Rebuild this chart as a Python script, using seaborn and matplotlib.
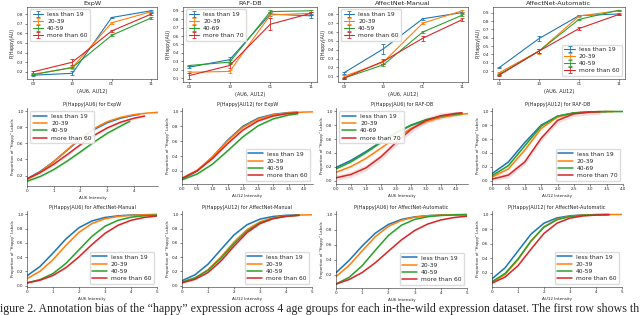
import matplotlib
matplotlib.use("Agg")
import matplotlib.pyplot as plt
from matplotlib.ticker import MultipleLocator
import seaborn as sns

sns.set_theme(style="ticks")
plt.rcParams['font.family'] = ['DejaVu Sans']
plt.rcParams.update({
    'axes.linewidth': 0.5,
    'xtick.major.size': 1.5, 'ytick.major.size': 1.5,
    'xtick.major.width': 0.4, 'ytick.major.width': 0.4,
    'xtick.major.pad': 1.0, 'ytick.major.pad': 1.0,
    'xtick.labelsize': 3.0, 'ytick.labelsize': 3.0,
})

# ---------------- row 1: P(Happy|AU) per AU6/AU12 combination
au_pairs = ["00", "10", "01", "11"]
ages_60 = ["less than 19", "20-39", "40-59", "more than 60"]
ages_70 = ["less than 19", "20-39", "40-69", "more than 70"]

expw_p = [[0.165, 0.185, 0.765, 0.835], [0.175, 0.245, 0.71, 0.825],
          [0.17, 0.245, 0.58, 0.76], [0.20, 0.30, 0.625, 0.80]]
expw_e = [[0.005, 0.02, 0.01, 0.01], [0.005, 0.015, 0.01, 0.01],
          [0.005, 0.01, 0.01, 0.01], [0.01, 0.03, 0.015, 0.01]]
raf_p = [[0.23, 0.32, 0.86, 0.84], [0.17, 0.18, 0.85, 0.87],
         [0.25, 0.29, 0.89, 0.90], [0.13, 0.25, 0.74, 0.87]]
raf_e = [[0.01, 0.03, 0.02, 0.02], [0.01, 0.02, 0.04, 0.02],
         [0.01, 0.02, 0.02, 0.01], [0.035, 0.03, 0.07, 0.02]]
man_p = [[0.14, 0.41, 0.75, 0.82], [0.10, 0.26, 0.70, 0.84],
         [0.08, 0.23, 0.60, 0.79], [0.08, 0.27, 0.53, 0.74]]
man_e = [[0.01, 0.06, 0.01, 0.01], [0.01, 0.02, 0.01, 0.01],
         [0.005, 0.015, 0.015, 0.01], [0.005, 0.03, 0.03, 0.015]]
auto_p = [[0.24, 0.59, 0.865, 0.885], [0.18, 0.44, 0.86, 0.925],
          [0.16, 0.44, 0.82, 0.93], [0.15, 0.44, 0.71, 0.88]]
auto_e = [[0.005, 0.03, 0.01, 0.01], [0.005, 0.03, 0.01, 0.005],
          [0.005, 0.02, 0.01, 0.005], [0.005, 0.02, 0.02, 0.01]]

# ---------------- rows 2-3: proportion of "happy" labels vs AU intensity
grid = [0.0, 0.5, 1.0, 1.5, 2.0, 2.5, 3.0, 3.5, 4.0, 4.5, 5.0]

expw_au6_y = [
    [0.160, 0.253, 0.375, 0.516, 0.655, 0.771, 0.857, 0.914, 0.950, 0.960],
    [0.151, 0.245, 0.372, 0.520, 0.664, 0.783, 0.869, 0.923, 0.957, 0.976, 0.985],
    [0.130, 0.190, 0.275, 0.380, 0.495, 0.615, 0.725, 0.815, 0.875],
    [0.160, 0.239, 0.341, 0.460, 0.584, 0.698, 0.792, 0.863, 0.912, 0.939]]
expw_au6_end = [4.2, 4.9, 3.85, 4.4]
expw_au6_ci = [0.01, 0.01, 0.015, 0.015]

expw_au12_y = [
    [0.090, 0.200, 0.387, 0.614, 0.801, 0.910, 0.962, 0.985, 0.991],
    [0.100, 0.210, 0.389, 0.605, 0.786, 0.898, 0.955, 0.981, 0.992, 0.995],
    [0.080, 0.159, 0.291, 0.471, 0.659, 0.808, 0.901, 0.952, 0.969],
    [0.100, 0.202, 0.366, 0.568, 0.750, 0.873, 0.940, 0.973, 0.983]]
expw_au12_end = [3.8, 4.3, 3.8, 3.8]
expw_au12_ci = [0.01, 0.01, 0.01, 0.012]

raf_au6_y = [
    [0.190, 0.292, 0.421, 0.561, 0.692, 0.798, 0.874, 0.924, 0.956, 0.960],
    [0.120, 0.203, 0.321, 0.469, 0.622, 0.754, 0.851, 0.914, 0.952, 0.970],
    [0.169, 0.271, 0.404, 0.552, 0.692, 0.804, 0.882, 0.932, 0.961, 0.969],
    [0.040, 0.088, 0.184, 0.344, 0.550, 0.740, 0.869, 0.939, 0.973, 0.981]]
raf_au6_end = [4.1, 4.4, 4.2, 4.2]
raf_au6_ci = [0.015, 0.015, 0.015, 0.045]

raf_au12_y = [
    [0.100, 0.269, 0.550, 0.802, 0.931, 0.978, 0.993, 0.998],
    [0.050, 0.169, 0.440, 0.752, 0.921, 0.978, 0.994, 0.999, 0.999],
    [0.070, 0.216, 0.502, 0.788, 0.932, 0.980, 0.995, 0.999, 1.000],
    [0.020, 0.079, 0.269, 0.611, 0.870, 0.966, 0.992, 0.997]]
raf_au12_end = [3.5, 3.7, 4.0, 3.3]
raf_au12_ci = [0.015, 0.015, 0.015, 0.04]

man_au6_y = [
    [0.139, 0.270, 0.458, 0.658, 0.815, 0.909, 0.958, 0.981, 0.992, 0.996, 0.998],
    [0.100, 0.202, 0.366, 0.568, 0.750, 0.873, 0.940, 0.973, 0.988, 0.995, 0.998],
    [0.040, 0.085, 0.171, 0.314, 0.505, 0.694, 0.835, 0.918, 0.962, 0.982, 0.992],
    [0.040, 0.077, 0.144, 0.254, 0.406, 0.579, 0.735, 0.848, 0.918, 0.958, 0.979]]
man_au6_end = [5.0, 5.0, 5.0, 5.0]
man_au6_ci = [0.008, 0.008, 0.008, 0.01]

man_au12_y = [
    [0.070, 0.153, 0.302, 0.509, 0.713, 0.856, 0.935, 0.972, 0.988, 0.995],
    [0.050, 0.110, 0.224, 0.404, 0.613, 0.788, 0.897, 0.953, 0.979, 0.991, 0.996],
    [0.050, 0.108, 0.216, 0.386, 0.589, 0.766, 0.882, 0.945, 0.975, 0.989],
    [0.040, 0.089, 0.185, 0.348, 0.555, 0.745, 0.872, 0.941, 0.974, 0.989]]
man_au12_end = [4.5, 5.0, 4.5, 4.5]
man_au12_ci = [0.008, 0.008, 0.008, 0.01]

auto_au6_y = [
    [0.230, 0.393, 0.584, 0.753, 0.869, 0.935, 0.969, 0.985, 0.993, 0.997, 0.999],
    [0.179, 0.327, 0.520, 0.707, 0.843, 0.923, 0.964, 0.983, 0.993, 0.997, 0.998],
    [0.080, 0.169, 0.323, 0.527, 0.723, 0.859, 0.935, 0.971, 0.987, 0.995, 0.998],
    [0.080, 0.140, 0.233, 0.362, 0.515, 0.665, 0.788, 0.874, 0.928, 0.960, 0.978]]
auto_au6_end = [5.0, 5.0, 5.0, 5.0]
auto_au6_ci = [0.006, 0.006, 0.006, 0.006]

auto_au12_y = [
    [0.119, 0.269, 0.500, 0.731, 0.881, 0.953, 0.982, 0.993, 0.998, 0.999],
    [0.070, 0.177, 0.380, 0.636, 0.833, 0.935, 0.976, 0.992, 0.997, 0.999, 1.000],
    [0.080, 0.192, 0.392, 0.636, 0.826, 0.928, 0.972, 0.990, 0.996, 0.999],
    [0.060, 0.142, 0.299, 0.525, 0.741, 0.881, 0.950, 0.980, 0.992, 0.997]]
auto_au12_end = [4.5, 5.0, 4.5, 4.5]
auto_au12_ci = [0.006, 0.006, 0.006, 0.006]

caption = ("igure 2. Annotation bias of the \u201chappy\u201d expression across 4 age groups "
           "for each in-the-wild expression dataset. The first row shows th")

W, H = 640, 315
colors = sns.color_palette("tab10", 4)
fig = plt.figure(figsize=(6.4, 3.15), dpi=100)


def box(l, t, r, b):
    return [l / W, 1 - b / H, (r - l) / W, (b - t) / H]


# row 1
row1 = [("ExpW", expw_p, expw_e, ages_60, "upper left", (27, 6.5, 157, 79)),
        ("RAF-DB", raf_p, raf_e, ages_70, "upper left", (183, 6.5, 317, 82)),
        ("AffectNet-Manual", man_p, man_e, ages_60, "upper left", (338, 6.5, 468, 82)),
        ("AffectNet-Automatic", auto_p, auto_e, ages_60, "lower right", (493, 6.5, 625, 79))]

for title, means, errs, ages, loc, bb in row1:
    ax = fig.add_axes(box(*bb))
    for i in range(4):
        ax.errorbar(range(len(au_pairs)), means[i], yerr=errs[i], color=colors[i],
                    lw=0.8, elinewidth=0.6, capsize=1.2, capthick=0.6, label=ages[i])
    ax.set_xticks(range(len(au_pairs)))
    ax.set_xticklabels(au_pairs)
    ax.yaxis.set_major_locator(MultipleLocator(0.1))
    ax.set_title(title, fontsize=4.6, pad=1.2)
    ax.set_xlabel("(AU6, AU12)", fontsize=3.6, labelpad=1.5)
    ax.set_ylabel("P(Happy|AU)", fontsize=3.4, labelpad=1.5)
    ax.legend(loc=loc, fontsize=4.3, handlelength=1.8, borderpad=0.45,
              labelspacing=0.3, handletextpad=0.6, frameon=True, framealpha=0.9,
              edgecolor="0.85")
    for s in ax.spines.values():
        s.set_linewidth(0.4)

# rows 2-3
row2 = [("P(Happy|AU6) for ExpW", "AU6 Intensity", expw_au6_y, expw_au6_end, expw_au6_ci,
         ages_60, "upper left", 1.0, (27, 108, 158, 186)),
        ("P(Happy|AU12) for ExpW", "AU12 Intensity", expw_au12_y, expw_au12_end, expw_au12_ci,
         ages_60, "lower right", 0.5, (182, 108, 313, 184)),
        ("P(Happy|AU6) for RAF-DB", "AU6 Intensity", raf_au6_y, raf_au6_end, raf_au6_ci,
         ages_70, "upper left", 0.5, (336, 108, 468, 184)),
        ("P(Happy|AU12) for RAF-DB", "AU12 Intensity", raf_au12_y, raf_au12_end, raf_au12_ci,
         ages_70, "lower right", 0.5, (492, 108, 623, 184)),
        ("P(Happy|AU6) for AffectNet-Manual", "AU6 Intensity", man_au6_y, man_au6_end, man_au6_ci,
         ages_60, "lower right", 1.0, (27, 211, 157, 287)),
        ("P(Happy|AU12) for AffectNet-Manual", "AU12 Intensity", man_au12_y, man_au12_end, man_au12_ci,
         ages_60, "lower right", 1.0, (182, 211, 312, 287)),
        ("P(Happy|AU6) for AffectNet-Automatic", "AU6 Intensity", auto_au6_y, auto_au6_end, auto_au6_ci,
         ages_60, "lower right", 1.0, (336, 211, 467, 288)),
        ("P(Happy|AU12) for AffectNet-Automatic", "AU12 Intensity", auto_au12_y, auto_au12_end, auto_au12_ci,
         ages_60, "lower right", 1.0, (492, 211, 622, 287))]

for title, xlab, ys, ends, cis, ages, loc, xstep, bb in row2:
    ax = fig.add_axes(box(*bb))
    for i in range(4):
        x = grid[:len(ys[i]) - 1] + [ends[i]]
        lo = [max(v - cis[i], 0) for v in ys[i]]
        hi = [min(v + cis[i], 1) for v in ys[i]]
        ax.fill_between(x, lo, hi, color=colors[i], alpha=0.15, lw=0)
        sns.lineplot(x=x, y=ys[i], color=colors[i], lw=1.1, label=ages[i], ax=ax)
    ax.set_xlim(0, max(ends))
    ax.xaxis.set_major_locator(MultipleLocator(xstep))
    ax.yaxis.set_major_locator(MultipleLocator(0.2))
    ax.set_title(title, fontsize=3.5, pad=1.5)
    ax.set_xlabel(xlab, fontsize=3.0, labelpad=1.5)
    ax.set_ylabel("Proportion of \"Happy\" Labels", fontsize=2.8, labelpad=1.5)
    ax.legend(loc=loc, fontsize=4.3, handlelength=2.4, borderpad=0.45,
              labelspacing=0.35, handletextpad=0.7, frameon=True, framealpha=0.9,
              edgecolor="0.85")
    sns.despine(ax=ax)
    for s in ax.spines.values():
        s.set_linewidth(0.4)

fig.text(0.0, 1 - 312 / H, caption, fontsize=8.6, family=['Liberation Serif', 'DejaVu Serif'],
         ha="left", va="baseline")

fig.savefig("out.png", dpi=100)
